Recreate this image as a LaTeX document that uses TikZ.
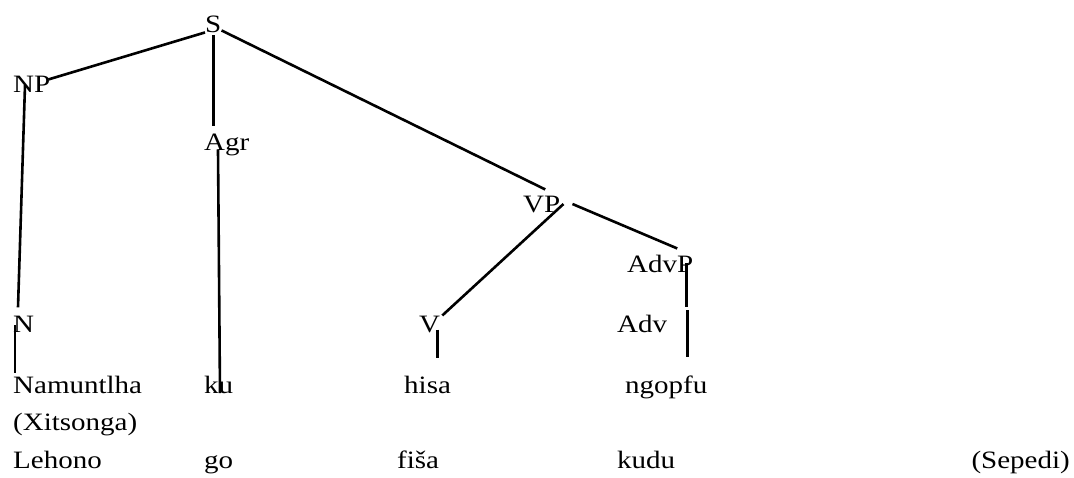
\documentclass[tikz,border=0pt]{standalone}
\usepackage{fontspec}
\setmainfont{Liberation Serif}[FakeStretch=1.16]
\usepackage{tikz}
\usetikzlibrary{calc}

\begin{document}
\begin{tikzpicture}[x=1pt, y=-1pt,
  every node/.style={inner sep=0pt, anchor=base west, font=\fontsize{25}{30}\selectfont},
  branch/.style={line width=2.6pt}
]
  \useasboundingbox (0,0) rectangle (1074,477);

  \node (S)    at (205,32)  {S};
  \node (NP)   at (13,92)   {NP};
  \node (Agr)  at (204,150) {Agr};
  \node (VP)   at (523,212) {VP};
  \node (AdvP) at (627,272) {AdvP};
  \node (N)    at (13,332)  {N};
  \node (V)    at (419,332) {V};
  \node (Adv)  at (617,332) {Adv};

  \node (w1) at (13,393)  {Namuntlha};
  \node (w2) at (204,393) {ku};
  \node (w3) at (404,393) {hisa};
  \node (w4) at (625,393) {ngopfu};
  \node (xit) at (13,430) {(Xitsonga)};
  \node (s1) at (13,468)  {Lehono};
  \node (s2) at (204,468) {go};
  \node (s3) at (397,468) {fiša};
  \node (s4) at (617,468) {kudu};
  \node[anchor=base east] (sep) at (1070,468) {(Sepedi)};

  \draw[branch] (S.south west) -- ([xshift=-2pt,yshift=-4pt]NP.north east);
  \draw[branch] ([yshift=-3pt]S.south) -- ([yshift=7pt]S.south |- Agr.north);
  \draw[branch] ([yshift=2pt]S.south east) -- ([xshift=3.5pt,yshift=6pt]VP.north);
  \draw[branch] ([xshift=3pt]VP.east) -- ([xshift=2pt]V.north east);
  \draw[branch] ([xshift=12pt]VP.east) -- ([xshift=17pt,yshift=6pt]AdvP.north);
  \draw[branch] ([xshift=-7pt,yshift=9pt]AdvP.south east) -- ([xshift=-7pt,yshift=7pt]AdvP.south east |- Adv.north);
  \draw[branch] ([xshift=20pt,yshift=4pt]Adv.north east) -- ([xshift=20pt,yshift=18pt]Adv.north east |- w4.north);
  \draw[branch] ([xshift=12pt,yshift=7pt]NP.south west) -- ([xshift=5pt,yshift=8pt]N.north west);
  \draw[branch] ([xshift=2pt,yshift=7pt]N.south west) -- ([xshift=2pt,yshift=2pt]w1.north west);
  \draw[branch] ([xshift=14pt]Agr.base west) -- ([xshift=16pt]w2.base west);
  \draw[branch] ([xshift=-3pt,yshift=3pt]V.south east) -- ([xshift=-3pt,yshift=17pt]V.south east |- w3.north);
\end{tikzpicture}
\end{document}
